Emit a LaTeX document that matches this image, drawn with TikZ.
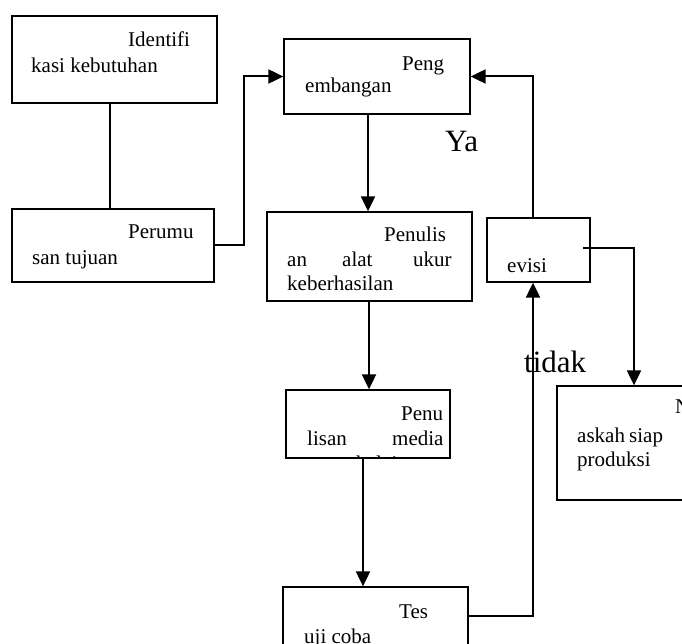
\documentclass[tikz,border=0pt]{standalone}
\usepackage{fontspec}
\setmainfont{Liberation Serif}
\usetikzlibrary{arrows.meta}
\begin{document}
\begin{tikzpicture}[x=1pt,y=-1pt,
  box/.style={draw,line width=1.3pt,rectangle,inner sep=0pt},
  lbl/.style={anchor=base west,inner sep=0pt,font=\fontsize{21}{25}\selectfont},
  big/.style={anchor=base west,inner sep=0pt,font=\fontsize{31}{36}\selectfont},
  arr/.style={line width=2pt,-{Triangle[length=15pt,width=14pt]}},
  ln/.style={line width=2pt}]
\clip (0,0) rectangle (682,644);
\fill[white] (0,0) rectangle (682,644);
% boxes
\node[box,minimum width=205pt,minimum height=87pt] (b1) at (114.5,59.5) {};
\node[box,minimum width=202pt,minimum height=73pt] (b2) at (113,245.5) {};
\node[box,minimum width=186pt,minimum height=75pt] (peng) at (377,76.5) {};
\node[box,minimum width=205pt,minimum height=89pt] (tulis) at (369.5,256.5) {};
\node[box,minimum width=103pt,minimum height=64pt] (rev) at (538.5,250) {};
\node[box,minimum width=163pt,minimum height=114pt] (nas) at (638.5,443) {};
\node[box,minimum width=164pt,minimum height=68pt] (med) at (368,424) {};
\node[box,minimum width=185pt,minimum height=93pt] (tes) at (375.5,633.5) {};
% texts
\node[lbl] (t1a) at (128,47) {Identifi};
\node[lbl] (t1b) at (31,73) {kasi kebutuhan};
\node[lbl] (t2a) at (128,239) {Perumu};
\node[lbl] (t2b) at (32,265) {san tujuan};
\node[lbl] (t3a) at (402,71) {Peng};
\node[lbl] (t3b) at (305,93) {embangan};
\node[lbl] (t4a) at (384,242) {Penulis};
\node[lbl] (t4b) at (287,266) {an};
\node[lbl] (t4c) at (342,266) {alat};
\node[lbl] (t4d) at (413,266) {ukur};
\node[lbl] (t4e) at (287,290) {keberhasilan};
\node[lbl] (t5a) at (507,272) {evisi};
\node[lbl] (t6a) at (675,413) {N};
\node[lbl] (t6b) at (577,442) {askah};
\node[lbl] (t6c) at (629,442) {siap};
\node[lbl] (t6d) at (577,466) {produksi};
\node[lbl] (t7a) at (401,420) {Penu};
\node[lbl] (t7b) at (307,445) {lisan};
\node[lbl] (t7c) at (392,445) {media};
\begin{scope}
\clip (287,391) rectangle (449,457);
\node[lbl] (t7d) at (320,470) {pembelajaran};
\end{scope}
\node[lbl] (t8a) at (399,618) {Tes};
\node[lbl] (t8b) at (304,643) {uji coba};
\node[big] (ya) at (445,152) {Ya};
\node[big] (tidak) at (524,372) {tidak};
% connectors
\draw[line width=1.3pt] (b1.south -| 110,0) -- (b2.north -| 110,0);
\draw[arr] (b2.east) -- ++(29,0) |- (peng.west);
\draw[arr] (rev.north -| 533,0) |- (peng.east);
\draw[arr] (peng.south -| 368,0) -- (tulis.north -| 368,0);
\draw[arr] (tulis.south -| 369,0) -- (med.north -| 369,0);
\draw[arr] (med.south -| 363,0) -- (tes.north -| 363,0);
\draw[arr] (tes.east |- 0,616) -| (rev.south -| 533,0);
\coordinate (rv) at (583,248);
\draw[arr] (rv) -| (nas.north -| 634,0);
\end{tikzpicture}
\end{document}
